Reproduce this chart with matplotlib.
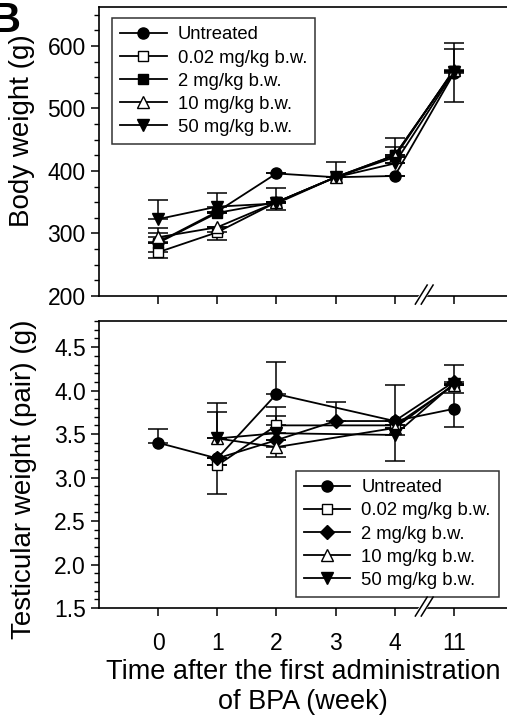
import matplotlib
matplotlib.use("Agg")
import matplotlib.pyplot as plt
import matplotlib.transforms as mtransforms
from matplotlib.ticker import MultipleLocator

plt.rcParams['font.family'] = ['Liberation Sans', 'DejaVu Sans']

weeks = ['0', '1', '2', '3', '4', '11']
groups = ['Untreated', '0.02 mg/kg b.w.', '2 mg/kg b.w.', '10 mg/kg b.w.', '50 mg/kg b.w.']

# body weight (g)
bw_untreated = [286, 335, 396, 390, 392, 556]
bw_002 = [270, 302, 350, 390, 425, 560]
bw_2 = [285, 333, 350, 390, 425, 560]
bw_10 = [294, 310, 350, 390, 422, 562]
bw_50 = [323, 343, 348, 390, 412, 558]
bw_err_up = [[14, 0, 0, 0, 0, 0], [0, 0, 0, 0, 14, 0], [0, 0, 0, 25, 28, 0],
             [15, 0, 23, 0, 0, 43], [31, 22, 0, 0, 0, 37]]
bw_err_lo = [[0, 0, 0, 0, 0, 46], [9, 12, 12, 0, 0, 0], [0, 0, 0, 0, 0, 0],
             [0, 0, 0, 0, 0, 0], [0, 0, 0, 0, 0, 0]]

# testicular weight (pair) (g); None = not measured
tw_untreated = [3.40, 3.22, 3.96, None, 3.65, 3.79]
tw_002 = [None, 3.14, 3.60, None, 3.60, 4.06]
tw_2 = [None, 3.22, 3.43, 3.65, 3.65, 4.10]
tw_10 = [None, 3.45, 3.35, None, 3.57, 4.07]
tw_50 = [None, 3.45, 3.51, None, 3.49, 4.08]
tw_err_up = [[0.16, 0, 0.37, 0, 0.41, 0.18], [0, 0, 0.21, 0, 0, 0], [0, 0, 0, 0.22, 0, 0.19],
             [0, 0.30, 0, 0, 0, 0], [0, 0.41, 0.20, 0, 0, 0]]
tw_err_lo = [[0, 0.41, 0, 0, 0, 0.21], [0, 0, 0, 0, 0, 0], [0, 0, 0, 0, 0, 0],
             [0, 0, 0.11, 0, 0, 0], [0, 0, 0, 0, 0.30, 0]]

bw_series = [bw_untreated, bw_002, bw_2, bw_10, bw_50]
tw_series = [tw_untreated, tw_002, tw_2, tw_10, tw_50]

top_markers = [('o', 'black'), ('s', 'white'), ('s', 'black'), ('^', 'white'), ('v', 'black')]
bot_markers = [('o', 'black'), ('s', 'white'), ('D', 'black'), ('^', 'white'), ('v', 'black')]

fig = plt.figure(figsize=(5.07, 7.19), dpi=100)
ax1 = fig.add_axes([0.1953, 0.5883, 0.8047, 0.4017])
ax2 = fig.add_axes([0.1953, 0.1544, 0.8047, 0.3991])


def draw(ax, series, err_up, err_lo, markers, msizes):
    for i, vals in enumerate(series):
        xs = [j for j, v in enumerate(vals) if v is not None]
        ys = [vals[j] for j in xs]
        up = [err_up[i][j] for j in xs]
        lo = [err_lo[i][j] for j in xs]
        ax.errorbar(xs, ys, yerr=[lo, up], fmt='none', ecolor='black',
                    elinewidth=1.1, capsize=7, capthick=1.1, zorder=2)
        m, fc = markers[i]
        ax.plot(xs, ys, color='black', lw=1.3, marker=m, markersize=msizes[i],
                markerfacecolor=fc, markeredgecolor='black', markeredgewidth=1.0,
                label=groups[i], zorder=3)


draw(ax1, bw_series, bw_err_up, bw_err_lo, top_markers, [8, 7, 7.5, 8, 8])
draw(ax2, tw_series, tw_err_up, tw_err_lo, bot_markers, [8, 7, 7, 8, 8])

for ax in (ax1, ax2):
    ax.set_xlim(-1, 5.9)
    ax.set_xticks(range(len(weeks)))
    ax.spines['right'].set_visible(False)
    for s in ax.spines.values():
        s.set_linewidth(1.2)
    ax.tick_params(direction='out', length=6, width=1.1, labelsize=16.5)
    ax.tick_params(which='minor', direction='out', length=3.5, width=1.0)
    # axis break marks at x = 4.5
    tr = mtransforms.blended_transform_factory(ax.transData, ax.transAxes)
    ax.plot([4.40, 4.60], [-0.02, 0.03], transform=tr, color='white', lw=5,
            clip_on=False, zorder=5, solid_capstyle='butt')
    for dx in (-0.05, 0.05):
        ax.plot([4.40 + dx, 4.60 + dx], [-0.028, 0.038], transform=tr,
                color='black', lw=1.1, clip_on=False, zorder=6)

ax1.set_ylim(200, 662)
ax1.set_yticks([200, 300, 400, 500, 600])
ax1.yaxis.set_minor_locator(MultipleLocator(25))
ax1.set_xticklabels([])
ax1.set_ylabel('Body weight (g)', fontsize=20)
ax1.yaxis.set_label_coords(-0.158, 0.571)

ax2.set_ylim(1.5, 4.8)
ax2.set_yticks([1.5, 2.0, 2.5, 3.0, 3.5, 4.0, 4.5])
ax2.set_yticklabels(['1.5', '2.0', '2.5', '3.0', '3.5', '4.0', '4.5'])
ax2.yaxis.set_minor_locator(MultipleLocator(0.1))
ax2.set_xticklabels(weeks)
ax2.tick_params(axis='x', pad=11)
ax2.set_ylabel('Testicular weight (pair) (g)', fontsize=20)
ax2.yaxis.set_label_coords(-0.152, 0.45)
ax2.set_xlabel('Time after the first administration\nof BPA (week)', fontsize=19.5,
               labelpad=3, linespacing=1.2)

leg_kw = dict(fontsize=13.3, frameon=True, fancybox=False, edgecolor='black',
              handlelength=2.5, handletextpad=0.6, labelspacing=0.33,
              borderpad=0.45, borderaxespad=0)
l1 = ax1.legend(loc='upper left', bbox_to_anchor=(0.032, 0.962), **leg_kw)
l2 = ax2.legend(loc='lower right', bbox_to_anchor=(0.98, 0.038), **leg_kw)
for lg in (l1, l2):
    lg.get_frame().set_linewidth(1.1)

fig.text(0.039, 0.955, 'B', fontsize=30, fontweight='bold', ha='right', va='baseline')

fig.savefig('out.png', dpi=100)
